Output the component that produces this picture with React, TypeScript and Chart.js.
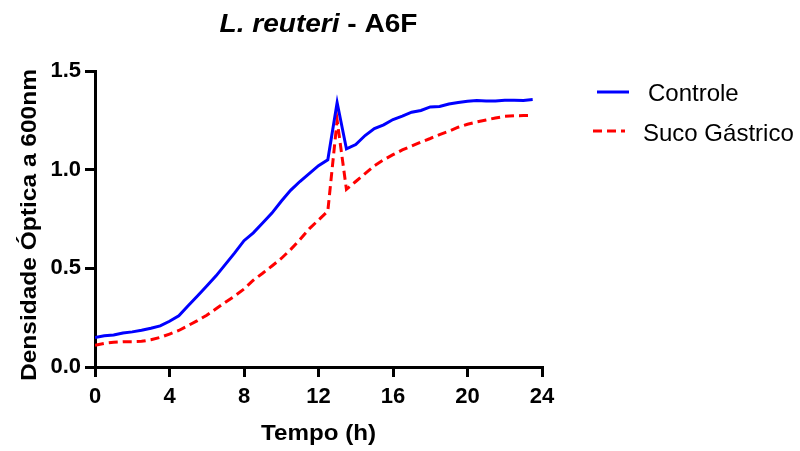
import { useEffect, useRef } from "react";
import { Chart, registerables } from "chart.js";

Chart.register(...registerables);

// ---- data ----
const hours = [
  0, 0.5, 1, 1.5, 2, 2.5, 3, 3.5, 4, 4.5, 5, 5.5, 6, 6.5, 7, 7.5, 8, 8.5, 9, 9.5,
  10, 10.5, 11, 11.5, 12, 12.5, 13, 13.5, 14, 14.5, 15, 15.5, 16, 16.5, 17, 17.5,
  18, 18.5, 19, 19.5, 20, 20.5, 21, 21.5, 22, 22.5, 23, 23.5,
];

const controle = [
  0.15, 0.158, 0.162, 0.172, 0.178, 0.186, 0.196, 0.208, 0.232, 0.26, 0.31, 0.36,
  0.41, 0.462, 0.52, 0.578, 0.64, 0.68, 0.73, 0.78, 0.84, 0.895, 0.94, 0.98,
  1.02, 1.05, 1.34, 1.105, 1.127, 1.173, 1.208, 1.227, 1.254, 1.271, 1.291, 1.3,
  1.318, 1.32, 1.333, 1.34, 1.347, 1.35, 1.348, 1.348, 1.352, 1.352, 1.351, 1.355,
];

const sucoGastrico = [
  0.11, 0.12, 0.125, 0.128, 0.128, 0.13, 0.138, 0.15, 0.167, 0.185, 0.21, 0.235,
  0.262, 0.295, 0.328, 0.36, 0.395, 0.44, 0.475, 0.512, 0.55, 0.595, 0.645, 0.7,
  0.745, 0.79, 1.25, 0.9, 0.94, 0.98, 1.02, 1.05, 1.076, 1.1, 1.12, 1.14,
  1.158, 1.178, 1.195, 1.215, 1.23, 1.242, 1.252, 1.262, 1.27, 1.273, 1.274, 1.275,
];

const seriesLabels = ["Controle", "Suco Gástrico"];
const xTicks = [0, 4, 8, 12, 16, 20, 24];
const yTicks = [0, 0.5, 1.0, 1.5];
const titleItalic = "L. reuteri";
const titleRest = " - A6F";
const xTitle = "Tempo (h)";
const yTitle = "Densidade Óptica a 600nm";

const FONT = "'Liberation Sans', Arial, Helvetica, sans-serif";

// draws stretched text so that its width matches a target
function drawFitted(ctx: CanvasRenderingContext2D, text: string, font: string, targetW: number) {
  ctx.font = font;
  const w = ctx.measureText(text).width;
  const s = targetW / w;
  ctx.scale(s, 1);
  ctx.textAlign = "center";
  ctx.textBaseline = "alphabetic";
  ctx.fillText(text, 0, 0);
}

const textPlugin = {
  id: "customText",
  afterDraw(chart: any) {
    const ctx: CanvasRenderingContext2D = chart.ctx;
    const area = chart.chartArea;
    ctx.save();
    ctx.fillStyle = "#000";

    // title (mixed italic / normal)
    const f1 = `italic bold 25px ${FONT}`;
    const f2 = `bold 25px ${FONT}`;
    ctx.font = f1;
    const w1 = ctx.measureText(titleItalic).width;
    ctx.font = f2;
    const w2 = ctx.measureText(titleRest).width;
    const targetW = 198;
    const s = targetW / (w1 + w2);
    const cx = (area.left + area.right) / 2;
    ctx.save();
    ctx.translate(cx - targetW / 2, 32);
    ctx.scale(s, 1);
    ctx.textAlign = "left";
    ctx.textBaseline = "alphabetic";
    ctx.font = f1;
    ctx.fillText(titleItalic, 0, 0);
    ctx.font = f2;
    ctx.fillText(titleRest, w1, 0);
    ctx.restore();

    // x axis title
    ctx.save();
    ctx.translate(cx, 440);
    drawFitted(ctx, xTitle, `bold 22px ${FONT}`, 115);
    ctx.restore();

    // y axis title
    ctx.save();
    ctx.translate(36, 225);
    ctx.rotate(-Math.PI / 2);
    drawFitted(ctx, yTitle, `bold 22px ${FONT}`, 312);
    ctx.restore();

    // legend
    const rows = [
      { x0: 597, x1: 629, y: 92, tx: 648, ty: 100.5 },
      { x0: 593, x1: 625, y: 131, tx: 643, ty: 140.5 },
    ];
    chart.data.datasets.forEach((ds: any, i: number) => {
      const r = rows[i];
      ctx.save();
      ctx.strokeStyle = ds.borderColor;
      ctx.lineWidth = 3;
      ctx.setLineDash(ds.borderDash || []);
      ctx.beginPath();
      ctx.moveTo(r.x0, r.y);
      ctx.lineTo(r.x1, r.y);
      ctx.stroke();
      ctx.restore();
      ctx.font = `24px ${FONT}`;
      ctx.textAlign = "left";
      ctx.textBaseline = "alphabetic";
      ctx.fillStyle = "#000";
      ctx.fillText(ds.label, r.tx, r.ty);
    });

    ctx.restore();
  },
};

export default function App() {
  const canvasRef = useRef<HTMLCanvasElement | null>(null);

  useEffect(() => {
    if (!canvasRef.current) return;
    const tickFont = { family: FONT, size: 22, weight: "bold" as const };
    const axisCommon = {
      border: { display: true, width: 3, color: "#000" },
      grid: {
        drawOnChartArea: false,
        drawTicks: true,
        tickLength: 10,
        tickWidth: 3,
        tickColor: "#000",
        lineWidth: 3,
        color: "#000",
      },
    };
    const chart = new Chart(canvasRef.current, {
      type: "line",
      data: {
        datasets: [
          {
            label: seriesLabels[0],
            data: hours.map((h, i) => ({ x: h, y: controle[i] })),
            borderColor: "#0000ff",
            backgroundColor: "#0000ff",
            borderWidth: 3,
            pointRadius: 0,
            tension: 0,
            fill: false,
          },
          {
            label: seriesLabels[1],
            data: hours.map((h, i) => ({ x: h, y: sucoGastrico[i] })),
            borderColor: "#ff0000",
            backgroundColor: "#ff0000",
            borderWidth: 3,
            borderDash: [9, 5],
            pointRadius: 0,
            tension: 0,
            fill: false,
          },
        ],
      },
      options: {
        animation: false,
        responsive: true,
        maintainAspectRatio: false,
        layout: { padding: { left: 0, right: 258, top: 71, bottom: 0 } },
        plugins: {
          legend: { display: false },
          title: { display: false },
          tooltip: { enabled: false },
        },
        scales: {
          x: {
            type: "linear",
            min: xTicks[0],
            max: xTicks[xTicks.length - 1],
            ...axisCommon,
            afterBuildTicks: (scale: any) => {
              scale.ticks = xTicks.map((v) => ({ value: v }));
            },
            afterFit: (scale: any) => {
              scale.height = 84;
            },
            ticks: {
              font: tickFont,
              color: "#000",
              padding: 7,
              maxRotation: 0,
              autoSkip: false,
              callback: (v: any) => String(v),
            },
          },
          y: {
            type: "linear",
            min: yTicks[0],
            max: yTicks[yTicks.length - 1],
            ...axisCommon,
            afterBuildTicks: (scale: any) => {
              scale.ticks = yTicks.map((v) => ({ value: v }));
            },
            afterFit: (scale: any) => {
              scale.width = 95;
            },
            ticks: {
              font: tickFont,
              color: "#000",
              padding: 4,
              autoSkip: false,
              callback: (v: any) => Number(v).toFixed(1),
            },
          },
        },
      },
      plugins: [textPlugin],
    });
    return () => chart.destroy();
  }, []);

  return (
    <div style={{ position: "fixed", left: 0, top: 0, width: 800, height: 451, background: "#fff" }}>
      <canvas ref={canvasRef} />
    </div>
  );
}
